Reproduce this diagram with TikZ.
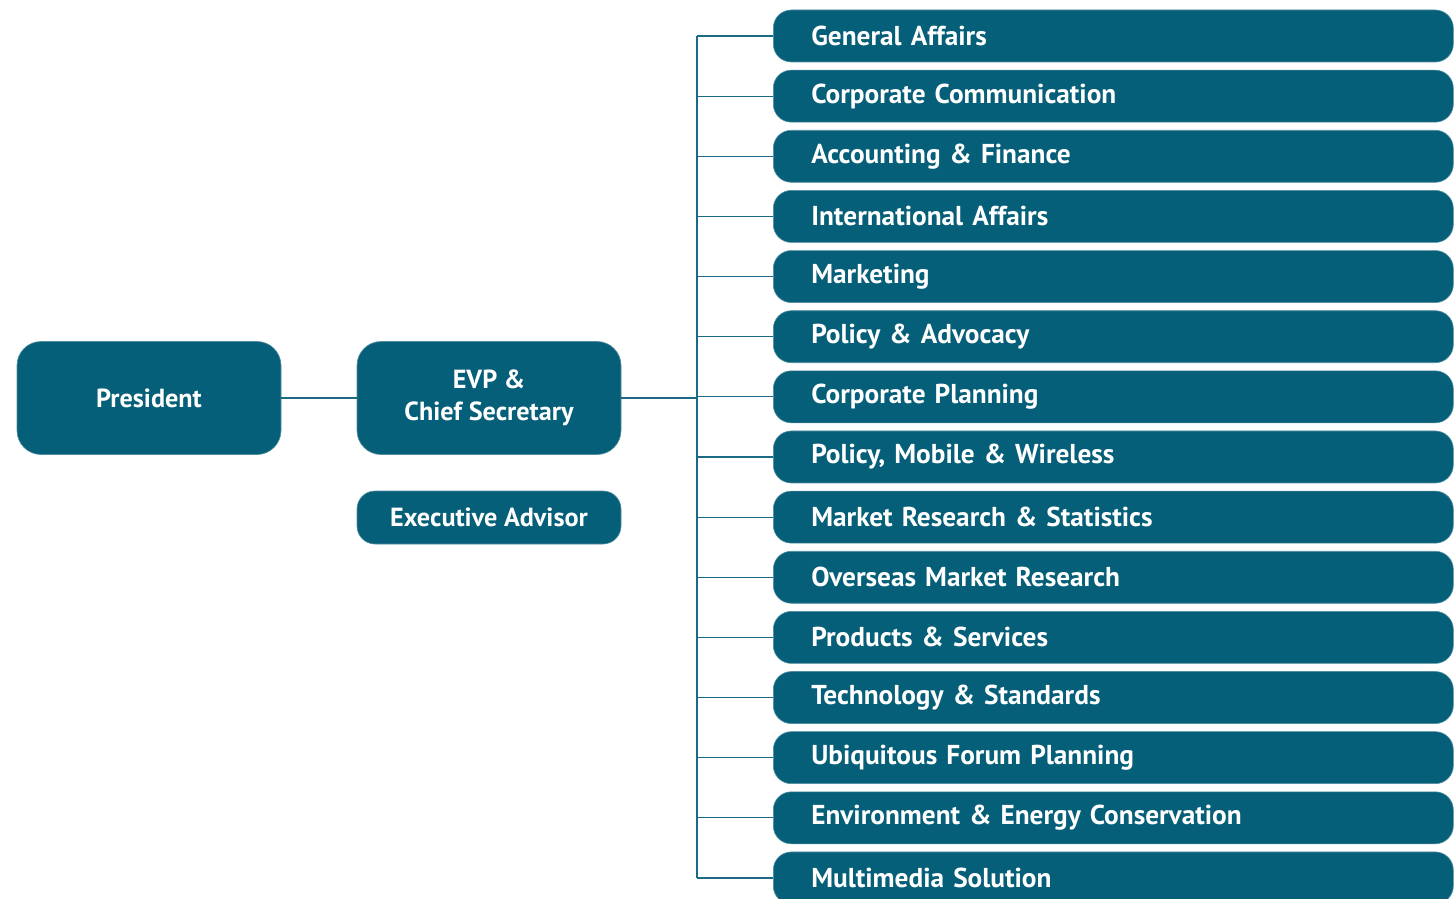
\documentclass[tikz,border=0pt]{standalone}
\usepackage{fontspec}
\setmainfont{PT Sans}
\definecolor{boxc}{HTML}{065F78}
\definecolor{linec}{HTML}{1A6A85}
\begin{document}
\begin{tikzpicture}[x=1pt,y=-1pt,
  dept/.style={fill=boxc, draw=boxc!70!white, line width=0.6pt, rounded corners=18pt, minimum width=680pt, minimum height=52pt, text=white, font=\bfseries\fontsize{27.3}{30}\selectfont, align=left, text width=604pt, inner sep=0pt, inner xsep=38pt},
  big/.style={fill=boxc, draw=boxc!70!white, line width=0.6pt, rounded corners=24pt, minimum width=264pt, minimum height=113pt, text=white, font=\bfseries\fontsize{26.2}{32}\selectfont, align=center, inner sep=0pt},
  small/.style={fill=boxc, draw=boxc!70!white, line width=0.6pt, rounded corners=18pt, minimum width=264pt, minimum height=53pt, text=white, font=\bfseries\fontsize{26.2}{28}\selectfont, align=center, inner sep=0pt},
  conn/.style={draw=linec, line width=1.2pt}]
\useasboundingbox (0,0) rectangle (1456,899);
\clip (0,0) rectangle (1456,899);
\node[big] (pres) at (149,398) {President};
\node[big] (evp) at (489,398) {EVP \&\\Chief Secretary};
\node[small] (adv) at (489,517.5) {Executive Advisor};
\foreach \i/\t in {0/General Affairs,1/Corporate Communication,2/Accounting \& Finance,3/International Affairs,4/Marketing,5/Policy \& Advocacy,6/Corporate Planning,7/{Policy, Mobile \& Wireless},8/Market Research \& Statistics,9/Overseas Market Research,10/Products \& Services,11/Technology \& Standards,12/Ubiquitous Forum Planning,13/Environment \& Energy Conservation,14/Multimedia Solution}{
  \pgfmathsetmacro{\yy}{36+60.14*\i}
  \node[dept, anchor=west] (d\i) at (773,\yy) {\t};
  \coordinate (b\i) at (697,\yy);
  \draw[conn] (b\i) -- (d\i.west);
}
\draw[conn] (pres.east) -- (evp.west);
\draw[conn] (evp.east) -- (evp.east -| b0);
\draw[conn] (b0) -- (b14);
\end{tikzpicture}
\end{document}
